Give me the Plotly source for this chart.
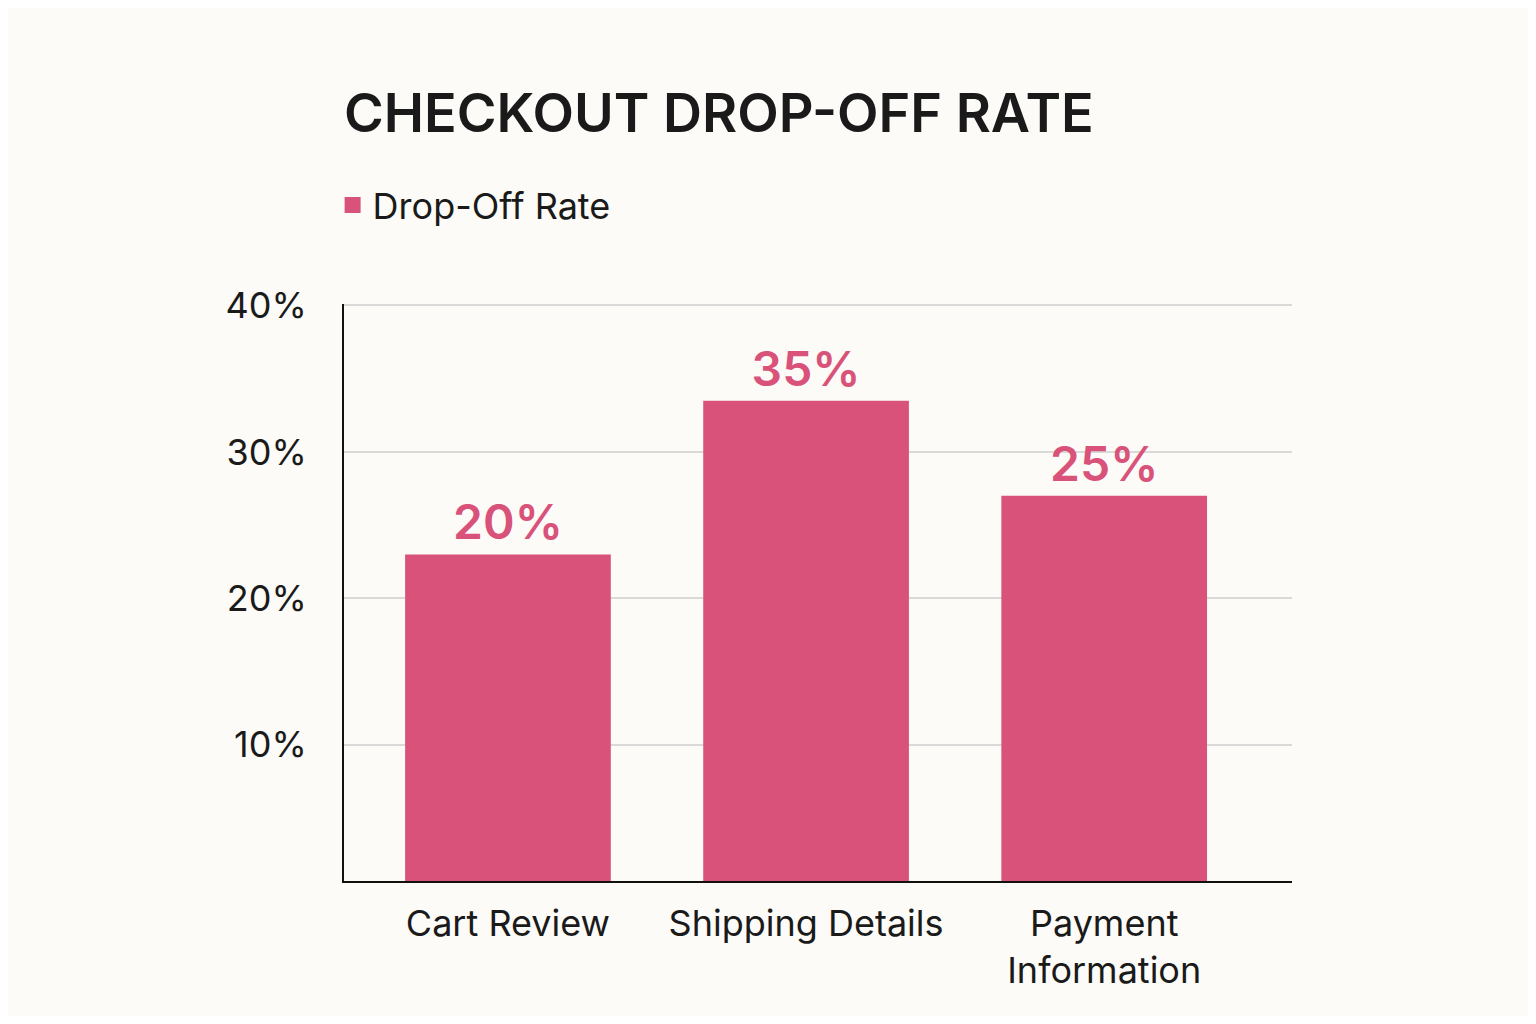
import plotly.graph_objects as go

categories = ["Cart Review", "Shipping Details", "Payment<br>Information"]
bar_values = [23.0, 33.5, 27.0]
bar_labels = ["20%", "35%", "25%"]
tick_vals = [10, 20, 30, 40]
tick_text = ["10%", "20%", "30%", "40%"]

color = "#D9527A"
bg = "#FCFBF7"
font = "Inter, Noto Sans, sans-serif"

fig = go.Figure()
fig.add_trace(go.Bar(
    x=categories, y=bar_values, name="Drop-Off Rate", showlegend=False,
    marker=dict(color=color, line=dict(width=0)),
    text=bar_labels, textposition="outside",
    textfont=dict(size=48, color=color, family=font, weight=600),
    width=0.69, cliponaxis=False,
))
fig.add_trace(go.Scatter(
    x=[None], y=[None], mode="markers", name="Drop-Off Rate",
    marker=dict(symbol="square", size=32, color=color),
))
fig.update_layout(
    width=1520, height=1008,
    paper_bgcolor=bg, plot_bgcolor=bg,
    margin=dict(l=336, r=236, t=296, b=135),
    font=dict(family=font, color="#1a1a1a", size=34),
    title=dict(text="CHECKOUT DROP-OFF RATE", x=336/1520, xanchor="left",
               y=1-105/1008, yanchor="middle",
               font=dict(size=54, family=font, color="#1a1a1a", weight=600)),
    showlegend=True,
    legend=dict(x=-0.012, xanchor="left", y=1 + (296-197)/577, yanchor="middle",
                orientation="h", font=dict(size=36), itemsizing="trace",
                bgcolor="rgba(0,0,0,0)"),
)
fig.update_yaxes(range=[0.7, 40.1], tickvals=tick_vals, ticktext=tick_text,
                 showgrid=True, gridcolor="#D9D9D9", gridwidth=2,
                 showline=True, linecolor="#111", linewidth=2,
                 zeroline=False, ticks="", ticklabelstandoff=28,
                 tickfont=dict(size=36))
fig.update_xaxes(range=[-0.55, 2.63], showline=True, linecolor="#111", linewidth=2,
                 ticks="", tickfont=dict(size=36), ticklabelstandoff=10)
fig.write_html("out.html")
